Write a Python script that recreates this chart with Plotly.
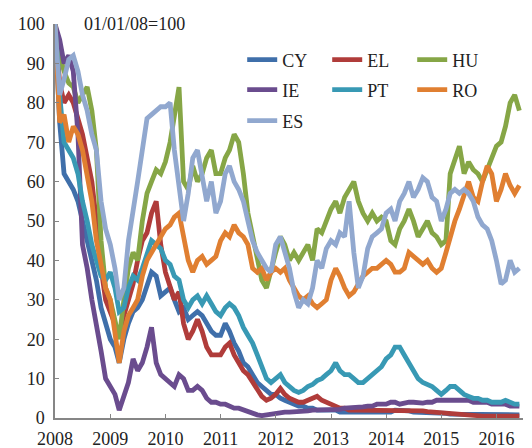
import pandas as pd
import plotly.graph_objects as go

# Monthly observations, 2008-01 .. 2016-06 (index 01/01/08 = 100)
dates = pd.date_range("2008-01-01", periods=102, freq="MS")

CY = [100, 75, 62, 60, 58, 55, 50, 45, 40, 35, 28, 24,
      20, 18, 14, 20, 24, 27, 28, 30, 34, 37, 36, 31,
      32, 33, 30, 27, 28, 25, 26, 27, 26, 24, 22, 21,
      21, 24, 22, 19, 17, 14, 13, 11, 9, 8, 7, 6,
      6, 5, 4.5, 4, 3.5, 3, 3, 2.5, 2.5, 2, 2, 2,
      2, 2, 1.5, 1.5, 1.5, 1.5, 1.5, 1.5, 1.5, 1.5, 1.5, 1.5,
      1.5, 1.5, 2, 2, 1.8, 1.8, 1.5, 1.5, 1.5, 1.5, 1.2, 1.2,
      1.2, 1.2, 1, 1, 1, 1, 1, 1, 1, 1, 1, 1,
      1, 1, 0.8, 0.8, 0.8, 0.8]

EL = [100, 85, 80, 82, 80, 76, 72, 66, 60, 50, 38, 30,
      27, 24, 21, 26, 30, 34, 40, 45, 47, 52, 55, 44,
      37, 33, 30, 32, 24, 20, 22, 25, 22, 18, 16, 16,
      16, 18, 19, 16, 14, 12, 11, 9, 7, 5.5, 4.5, 5,
      6, 7.5, 6, 5, 4.5, 4, 4, 4.5, 5, 5.5, 4.5, 4,
      3.5, 3, 2.5, 2.5, 2, 2, 2, 2, 2, 2, 1.8, 1.8,
      1.8, 1.8, 1.8, 2, 2, 2, 1.8, 1.8, 1.8, 1.6, 1.5, 1.4,
      1.2, 1.2, 1, 1, 0.8, 0.6, 0.5, 0.5, 0.5, 0.5, 0.5, 0.5,
      0.5, 0.5, 0.5, 0.5, 0.5, 0.5]

HU = [100, 92, 88, 85, 84, 80, 82, 84, 78, 68, 45, 33,
      30, 25, 20, 30, 38, 42, 40, 50, 57, 60, 63, 62,
      65, 70, 76, 84, 60, 58, 64, 60, 62, 66, 68, 62,
      62, 66, 68, 72, 70, 62, 52, 46, 40, 35, 33, 38,
      42, 46, 44, 40, 42, 40, 42, 44, 40, 48, 47, 50,
      53, 55, 52, 56, 58, 60, 55, 52, 50, 52, 50, 51,
      50, 45, 44, 48, 50, 53, 50, 46, 48, 50, 47, 46,
      44, 45, 62, 66, 69, 62, 65, 63, 62, 60, 63, 66,
      69, 70, 74, 80, 82, 78]

IE = [100, 96, 90, 92, 88, 72, 44, 38, 30, 24, 17, 10,
      8, 6, 2, 6, 9, 15, 12, 14, 18, 23, 14, 11,
      10, 9, 8, 11, 10, 7, 7, 8, 7, 5, 4, 4,
      3.5, 3.5, 3, 2.5, 2.5, 2, 1.5, 1, 0.8, 0.6, 0.8, 1,
      1.2, 1.5, 1.5, 1.5, 1.5, 1.5, 1.5, 1.8, 2, 2, 2, 2,
      2, 2, 2.2, 2.5, 2.5, 2.5, 2.5, 2.8, 3, 3, 3.5, 3.5,
      3.5, 4, 4, 3.5, 3.8, 4, 4, 3.8, 3.8, 4, 4, 4.5,
      4.5, 4.5, 4.5, 4.5, 4.5, 4.5, 4.5, 4, 4, 4, 4, 3.5,
      3.5, 3.5, 3.5, 3, 3, 3]

PT = [100, 82, 70, 68, 66, 62, 55, 50, 44, 40, 36, 35,
      37, 33, 27, 28, 33, 36, 35, 38, 42, 45, 44, 43,
      40, 39, 36, 35, 30, 28, 30, 31, 29, 31, 29, 27,
      26, 28, 29, 28, 26, 23, 21, 19, 16, 13, 10, 9,
      10, 11, 9, 8, 7, 6.5, 7, 8, 8.5, 9.5, 10, 11,
      12, 14, 12, 11, 11, 10, 9, 9, 10, 11, 12, 13,
      15, 16, 18, 18, 16, 14, 12, 10, 9, 8.5, 8, 7,
      6, 7, 8, 8, 7, 6, 5.5, 5, 5, 4.5, 4.5, 4,
      4, 4, 4.5, 4, 3.5, 3.5]

RO = [100, 75, 77, 70, 74, 72, 68, 62, 55, 45, 38, 33,
      30, 22, 14, 22, 26, 28, 30, 36, 40, 42, 44, 46,
      48, 49, 51, 52, 46, 40, 37, 40, 41, 39, 40, 41,
      45, 47, 46, 49, 47, 46, 44, 38, 37, 38, 35, 37,
      38, 37, 38, 35, 33, 31, 30, 31, 29, 28, 29, 30,
      35, 38, 36, 33, 31, 32, 34, 36, 37, 38, 38, 39,
      40, 39, 37, 37, 38, 42, 41, 40, 39, 40, 38, 37,
      38, 42, 46, 50, 53, 57, 60, 56, 55, 60, 64, 62,
      55, 58, 62, 59, 57, 59]

ES = [100, 82, 86, 91, 92, 88, 82, 78, 72, 68, 55, 48,
      44, 38, 30, 33, 45, 52, 60, 68, 76, 77, 78, 79,
      79, 80, 68, 58, 50, 57, 66, 68, 62, 55, 60, 52,
      55, 62, 64, 60, 58, 55, 50, 45, 42, 40, 38, 37,
      44, 46, 42, 38, 32, 28, 30, 29, 33, 40, 38, 43,
      45, 44, 47, 46, 55, 42, 33, 36, 43, 46, 47, 48,
      52, 53, 50, 55, 57, 60, 56, 58, 61, 60, 56, 55,
      50, 53, 57, 58, 57, 58, 57, 55, 51, 49, 48, 45,
      40, 34, 35, 40, 37, 38]

year_ticks = ["2008", "2009", "2010", "2011", "2012", "2013", "2014", "2015", "2016"]

series = [("CY", CY, "#3F6FAA", "legend"),
          ("EL", EL, "#B03C3A", "legend"),
          ("HU", HU, "#86A646", "legend"),
          ("IE", IE, "#6A4C8E", "legend2"),
          ("PT", PT, "#3899B4", "legend2"),
          ("RO", RO, "#E07F31", "legend2"),
          ("ES", ES, "#91A8CF", "legend3")]

FONT = "Liberation Serif, Times New Roman, serif"

fig = go.Figure()
for name, vals, color, lg in series:
    fig.add_trace(go.Scatter(x=dates, y=vals, name=name, mode="lines",
                             line=dict(color=color, width=4.8),
                             legend=lg))

plot_top, plot_h = 16, 394
def ypaper(py):
    return 1 - (py - plot_top) / plot_h

leg_common = dict(orientation="h", xanchor="left", yanchor="middle",
                  x=0.40, bgcolor="rgba(0,0,0,0)",
                  font=dict(family=FONT, size=18, color="#222"),
                  entrywidth=40, entrywidthmode="pixels",
                  itemwidth=30, tracegroupgap=0)

# the page body adds an 8px offset, so the figure is sized to fill the window
fig.update_layout(
    width=524, height=440,
    margin=dict(l=47, r=9, t=16, b=30, autoexpand=False),
    paper_bgcolor="white", plot_bgcolor="white",
    font=dict(family=FONT, size=18, color="#222"),
    showlegend=True,
    legend=dict(y=ypaper(52), **leg_common),
    legend2=dict(y=ypaper(82), **leg_common),
    legend3=dict(y=ypaper(113), **leg_common),
    xaxis=dict(type="date", range=["2008-01-01", "2016-06-25"],
               tickvals=[f"{y}-01-01" for y in year_ticks], ticktext=year_ticks,
               ticks="inside", ticklen=4, tickcolor="#868686",
               ticklabelstandoff=4,
               showline=True, linecolor="#868686", linewidth=1.5,
               showgrid=False, zeroline=False, automargin=False,
               tickfont=dict(family=FONT, size=18, color="#222")),
    yaxis=dict(range=[0, 100], dtick=10, ticks="inside", ticklen=4,
               tickcolor="#868686", showline=True, linecolor="#868686",
               ticklabelstandoff=5,
               linewidth=1.5, showgrid=False, zeroline=False, automargin=False,
               tickfont=dict(family=FONT, size=18, color="#222")),
    annotations=[dict(text="01/01/08=100", xref="paper", yref="paper",
                      x=0.058, y=1.0, xanchor="left", yanchor="middle",
                      showarrow=False,
                      font=dict(family=FONT, size=18, color="#222"))],
)

fig.write_html("out.html")
